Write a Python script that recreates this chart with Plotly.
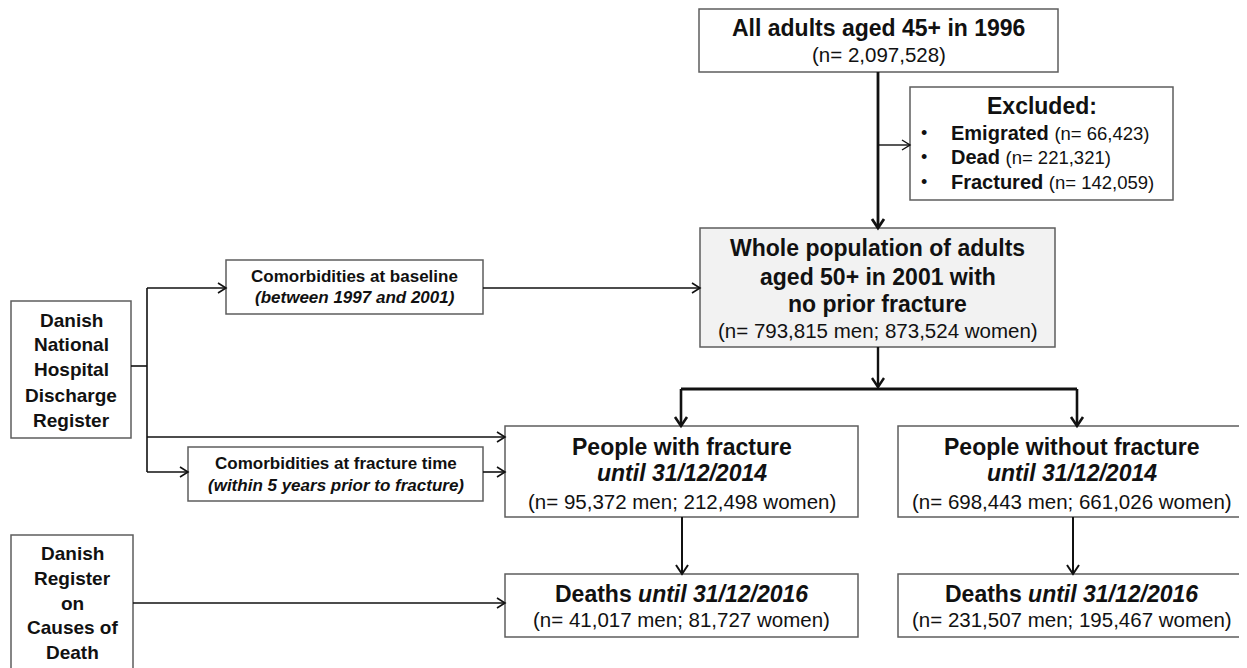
import plotly.graph_objects as go

# ---------------- data ----------------
top_title = "All adults aged 45+ in 1996"
top_n = 2097528

excluded_title = "Excluded:"
excluded_labels = ["Emigrated", "Dead", "Fractured"]
excluded_n = [66423, 221321, 142059]

whole_title = ["Whole population of adults", "aged 50+ in 2001 with", "no prior fracture"]
whole_men = 793815
whole_women = 873524

group_labels = ["People with fracture", "People without fracture"]
group_period = "until 31/12/2014"
group_men = [95372, 698443]
group_women = [212498, 661026]

death_label = "Deaths"
death_period = "until 31/12/2016"
death_men = [41017, 231507]
death_women = [81727, 195467]

register_hosp = ["Danish", "National", "Hospital", "Discharge", "Register"]
register_death = ["Danish", "Register", "on", "Causes of", "Death"]
comorb_base = ["Comorbidities at baseline", "(between 1997 and 2001)"]
comorb_fx = ["Comorbidities at fracture time", "(within 5 years prior to fracture)"]

# ---------------- layout (pixel space of the page) ----------------
PAGE_W, PAGE_H = 1247, 668
OFF = 8  # default body margin of the html page
FONT = "Liberation Sans, Arial, sans-serif"
BORDER = "#5e5e5e"
INK = "#111111"

boxes = {
    "top": (699, 9, 1058, 72),
    "excl": (910, 87, 1173, 200),
    "whole": (700, 228, 1055, 347),
    "hosp": (11, 301, 131, 438),
    "base": (226, 260, 483, 314),
    "fxcom": (188, 447, 483, 501),
    "fx": (505, 426, 858, 517),
    "nofx": (898, 426, 1245, 517),
    "dfx": (505, 574, 858, 637),
    "dnofx": (898, 574, 1245, 637),
    "cod": (11, 535, 133, 700),
}
fills = {"whole": "#f2f2f2"}

fig = go.Figure()
shapes = []
annotations = []


def cx(key):
    b = boxes[key]
    return (b[0] + b[2]) / 2


for key, (x0, y0, x1, y1) in boxes.items():
    shapes.append(dict(type="rect", xref="x", yref="y", x0=x0, y0=y0, x1=x1, y1=y1,
                       line=dict(color=BORDER, width=1.5),
                       fillcolor=fills.get(key, "white"), layer="below"))


def line(x0, y0, x1, y1, w=1.6):
    shapes.append(dict(type="line", xref="x", yref="y", x0=x0, y0=y0, x1=x1, y1=y1,
                       line=dict(color=INK, width=w)))


def head(x, y, direction, w=1.6, s=8, hw=5):
    if direction == "right":
        p = f"M {x - s},{y - hw} L {x},{y} L {x - s},{y + hw}"
    else:  # down
        p = f"M {x - hw},{y - s} L {x},{y} L {x + hw},{y - s}"
    shapes.append(dict(type="path", xref="x", yref="y", path=p,
                       line=dict(color=INK, width=w)))


def arrow(x0, y0, x1, y1, w=1.6, s=8, hw=5):
    line(x0, y0, x1, y1, w)
    head(x1, y1, "right" if y0 == y1 else "down", w, s, hw)


def text(x, y, t, size, anchor="center"):
    annotations.append(dict(x=x, y=y, xref="x", yref="y", text=t, showarrow=False,
                            xanchor=anchor, yanchor="middle",
                            font=dict(family=FONT, size=size, color=INK)))


def fmt(n):
    return f"{n:,}"


# ---- connectors ----
xm = 878
arrow(xm, boxes["top"][3], xm, boxes["whole"][1], w=2.8, s=9, hw=6)
arrow(xm, 145, boxes["excl"][0], 145, w=1.4)

xb = 147
line(boxes["hosp"][2], 366, xb, 366)
line(xb, 288, xb, 472)
arrow(xb, 288, boxes["base"][0], 288)
arrow(boxes["base"][2], 288, boxes["whole"][0], 288)
arrow(xb, 437, boxes["fx"][0], 437)
arrow(xb, 472, boxes["fxcom"][0], 472)
arrow(boxes["fxcom"][2], 472, boxes["fx"][0], 472)

ysplit = 389
arrow(xm, boxes["whole"][3], xm, ysplit - 2, w=2.4, s=9, hw=6)
line(681, ysplit, 1077, ysplit, w=2.8)
arrow(681, ysplit, 681, boxes["fx"][1], w=2.6, s=9, hw=6)
arrow(1077, ysplit, 1077, boxes["nofx"][1], w=2.6, s=9, hw=6)

arrow(682, boxes["fx"][3], 682, boxes["dfx"][1], w=2.0, s=9, hw=6)
arrow(1073, boxes["nofx"][3], 1073, boxes["dnofx"][1], w=2.0, s=9, hw=6)
arrow(boxes["cod"][2], 603, boxes["dfx"][0], 603)

# ---- texts ----
HEAD = 23
NSZ = 20.5
SMALL = 17

text(cx("top"), 28, f"<b>{top_title}</b>", HEAD)
text(cx("top"), 54, f"(n= {fmt(top_n)})", NSZ)

text(cx("excl"), 106, f"<b>{excluded_title}</b>", HEAD)
for lab, n, y in zip(excluded_labels, excluded_n, [133, 157, 182]):
    text(924, y, "•", 18)
    text(949, y, f"<b>{lab}</b> <span style='font-size:18.5px'>(n= {fmt(n)})</span>", 20, "left")

for t, y in zip(whole_title, [248, 277, 304]):
    text(cx("whole"), y, f"<b>{t}</b>", HEAD)
text(cx("whole"), 330, f"(n= {fmt(whole_men)} men; {fmt(whole_women)} women)", NSZ)

for t, y in zip(register_hosp, [320, 344, 369, 395, 420]):
    text(cx("hosp"), y, f"<b>{t}</b>", 19)
for t, y in zip(register_death, [553, 578, 603, 627, 652]):
    text(boxes["cod"][0] + 61, y, f"<b>{t}</b>", 19)

text(cx("base"), 276, f"<b>{comorb_base[0]}</b>", SMALL)
text(cx("base"), 297, f"<b><i>{comorb_base[1]}</i></b>", SMALL)
text(cx("fxcom"), 463, f"<b>{comorb_fx[0]}</b>", SMALL)
text(cx("fxcom"), 485, f"<b><i>{comorb_fx[1]}</i></b>", SMALL)

for key, dkey, lab, m, w_, dm, dw in zip(["fx", "nofx"], ["dfx", "dnofx"], group_labels,
                                        group_men, group_women, death_men, death_women):
    text(cx(key), 447, f"<b>{lab}</b>", HEAD)
    text(cx(key), 473, f"<b><i>{group_period}</i></b>", HEAD)
    text(cx(key), 501, f"(n= {fmt(m)} men; {fmt(w_)} women)", NSZ)
    text(cx(dkey), 594, f"<b>{death_label} <i>{death_period}</i></b>", HEAD)
    text(cx(dkey), 619, f"(n= {fmt(dm)} men; {fmt(dw)} women)", NSZ)

# The page places the figure OFF px from the top-left corner, so the
# figure covers page pixels [OFF, PAGE_W] x [OFF, PAGE_H].
fig.update_layout(
    width=PAGE_W - OFF, height=PAGE_H - OFF,
    margin=dict(l=0, r=0, t=0, b=0),
    paper_bgcolor="white", plot_bgcolor="white",
    xaxis=dict(range=[OFF, PAGE_W], visible=False, fixedrange=True),
    yaxis=dict(range=[PAGE_H, OFF], visible=False, fixedrange=True),
    shapes=shapes, annotations=annotations, showlegend=False,
)

fig.write_html("out.html", config={"displayModeBar": False})
